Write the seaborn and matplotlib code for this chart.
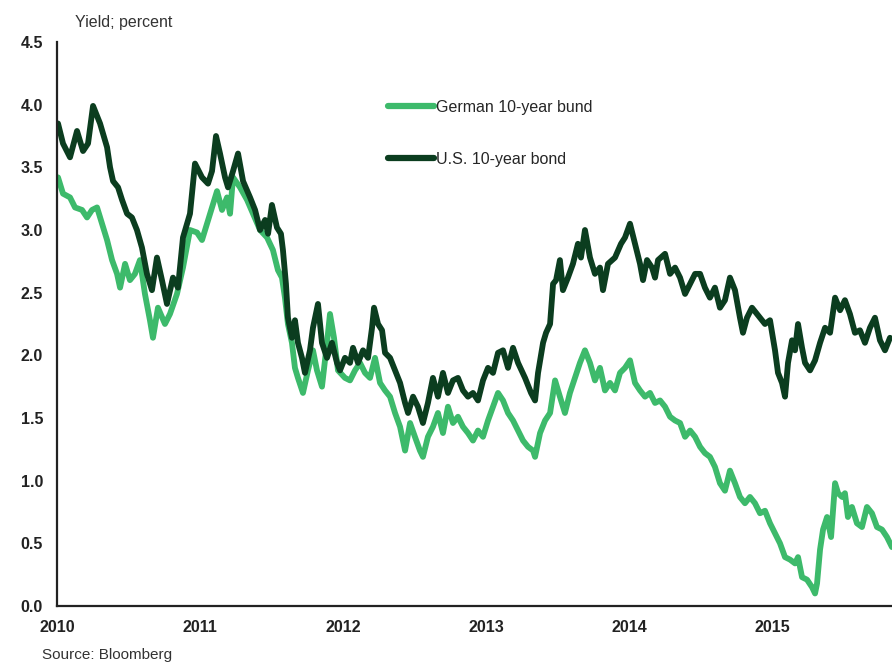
import matplotlib
matplotlib.use("Agg")
import matplotlib.pyplot as plt
import seaborn as sns
import pandas as pd

# offset in years from 2010-01-01
us_t = [0.007, 0.042, 0.091, 0.140, 0.182, 0.217, 0.252, 0.301, 0.350, 0.371, 0.392, 0.427, 0.455, 0.490,
        0.524, 0.559, 0.594, 0.629, 0.664, 0.699, 0.734, 0.769, 0.811, 0.846, 0.881, 0.930, 0.965,
        1.014, 1.056, 1.084, 1.112, 1.140, 1.175, 1.196, 1.231, 1.266, 1.301, 1.350, 1.385, 1.420, 1.455,
        1.476, 1.503, 1.538, 1.566, 1.580, 1.601, 1.615, 1.643, 1.664, 1.685, 1.713, 1.734, 1.769, 1.790,
        1.825, 1.853, 1.888, 1.923, 1.958,
        1.979, 2.014, 2.049, 2.070, 2.105, 2.140, 2.175, 2.203, 2.217, 2.245, 2.273, 2.294, 2.329, 2.364,
        2.399, 2.434, 2.455, 2.490, 2.524, 2.559, 2.594, 2.629, 2.664, 2.699, 2.734, 2.769, 2.804, 2.839,
        2.874, 2.909,
        2.944, 2.979, 3.014, 3.049, 3.084, 3.119, 3.154, 3.189, 3.224, 3.273, 3.315, 3.343, 3.364, 3.399,
        3.420, 3.448, 3.469, 3.490, 3.517, 3.538, 3.573, 3.608, 3.643, 3.664, 3.692, 3.727, 3.762, 3.797,
        3.818, 3.853, 3.902, 3.944,
        3.972, 4.007, 4.042, 4.077, 4.098, 4.126, 4.161, 4.182, 4.203, 4.252, 4.287, 4.322, 4.357, 4.392,
        4.427, 4.462, 4.497, 4.531, 4.566, 4.601, 4.636, 4.671, 4.706, 4.741, 4.776, 4.797, 4.825, 4.860,
        4.895,
        4.930, 4.951, 4.986, 5.021, 5.042, 5.070, 5.091, 5.112, 5.140, 5.161, 5.182, 5.210, 5.231, 5.266,
        5.301, 5.336, 5.371, 5.406, 5.441, 5.476, 5.510, 5.545, 5.580, 5.615, 5.650, 5.685, 5.720, 5.755,
        5.790, 5.825]
us_yield = [3.85, 3.69, 3.58, 3.79, 3.63, 3.69, 3.99, 3.85, 3.66, 3.50, 3.39, 3.34, 3.24, 3.13,
            3.10, 3.00, 2.86, 2.65, 2.52, 2.78, 2.60, 2.41, 2.62, 2.54, 2.94, 3.13, 3.53,
            3.42, 3.37, 3.47, 3.75, 3.61, 3.42, 3.34, 3.47, 3.61, 3.39, 3.26, 3.16, 3.00, 3.08,
            2.97, 3.20, 3.02, 2.97, 2.84, 2.57, 2.30, 2.14, 2.28, 2.10, 1.98, 1.86, 2.04, 2.22,
            2.41, 2.10, 1.98, 2.10, 1.94,
            1.88, 1.98, 1.94, 2.06, 1.94, 2.04, 1.98, 2.22, 2.38, 2.25, 2.20, 2.02, 1.98, 1.88,
            1.78, 1.62, 1.54, 1.67, 1.59, 1.46, 1.62, 1.82, 1.67, 1.86, 1.70, 1.80, 1.82, 1.72,
            1.67, 1.70,
            1.64, 1.80, 1.90, 1.86, 2.02, 2.04, 1.90, 2.06, 1.94, 1.82, 1.70, 1.64, 1.86, 2.10,
            2.18, 2.25, 2.57, 2.60, 2.76, 2.52, 2.62, 2.73, 2.89, 2.78, 3.00, 2.78, 2.65, 2.70,
            2.52, 2.73, 2.78, 2.89,
            2.94, 3.05, 2.89, 2.73, 2.60, 2.76, 2.70, 2.62, 2.76, 2.81, 2.65, 2.70, 2.62, 2.49,
            2.57, 2.65, 2.65, 2.54, 2.46, 2.54, 2.38, 2.44, 2.62, 2.52, 2.30, 2.18, 2.30, 2.38,
            2.33,
            2.28, 2.25, 2.28, 2.04, 1.86, 1.78, 1.67, 1.94, 2.12, 2.04, 2.25, 2.06, 1.94, 1.88,
            1.96, 2.10, 2.22, 2.18, 2.46, 2.36, 2.44, 2.33, 2.18, 2.20, 2.10, 2.22, 2.30, 2.12,
            2.04, 2.14]

de_t = [0.007, 0.042, 0.091, 0.126, 0.175, 0.210, 0.245, 0.280, 0.315, 0.350, 0.385, 0.420, 0.441, 0.476,
        0.510, 0.545, 0.580, 0.615, 0.650, 0.671, 0.706, 0.755, 0.790, 0.839, 0.881, 0.930, 0.979,
        1.014, 1.049, 1.084, 1.119, 1.154, 1.189, 1.210, 1.231, 1.280, 1.329, 1.371, 1.420, 1.469, 1.510,
        1.545, 1.573, 1.594, 1.615, 1.643, 1.664, 1.685, 1.720, 1.755, 1.790, 1.818, 1.853, 1.888, 1.909,
        1.937, 1.965,
        2.014, 2.049, 2.084, 2.119, 2.154, 2.189, 2.224, 2.259, 2.294, 2.329, 2.364, 2.399, 2.434, 2.469,
        2.503, 2.538, 2.559, 2.594, 2.629, 2.664, 2.699, 2.734, 2.769, 2.804, 2.839, 2.874, 2.909,
        2.944, 2.979, 3.014, 3.049, 3.084, 3.119, 3.154, 3.189, 3.224, 3.259, 3.294, 3.329, 3.343, 3.378,
        3.413, 3.448, 3.483, 3.517, 3.552, 3.587, 3.622, 3.657, 3.692, 3.727, 3.762, 3.797, 3.832, 3.867,
        3.902, 3.937,
        3.972, 4.007, 4.042, 4.077, 4.112, 4.147, 4.182, 4.217, 4.252, 4.287, 4.322, 4.357, 4.392, 4.427,
        4.462, 4.497, 4.531, 4.566, 4.601, 4.636, 4.671, 4.706, 4.741, 4.776, 4.811, 4.846, 4.881, 4.916,
        4.951, 4.986, 5.021, 5.056, 5.091, 5.126, 5.161, 5.182, 5.210, 5.245, 5.280, 5.301, 5.315, 5.336,
        5.357, 5.385, 5.413, 5.441, 5.462, 5.490, 5.510, 5.531, 5.559, 5.594, 5.629, 5.664, 5.699, 5.734,
        5.769, 5.804, 5.839]
de_yield = [3.42, 3.29, 3.26, 3.18, 3.16, 3.10, 3.16, 3.18, 3.05, 2.92, 2.76, 2.65, 2.54, 2.73,
            2.60, 2.65, 2.76, 2.49, 2.28, 2.14, 2.38, 2.25, 2.33, 2.49, 2.70, 3.00, 2.98,
            2.92, 3.05, 3.18, 3.31, 3.16, 3.26, 3.13, 3.42, 3.34, 3.24, 3.13, 3.00, 2.94, 2.84,
            2.68, 2.62, 2.46, 2.25, 2.10, 1.90, 1.82, 1.70, 1.88, 2.04, 1.88, 1.75, 2.10, 2.33,
            2.14, 1.88,
            1.82, 1.80, 1.88, 1.94, 1.86, 1.82, 1.98, 1.78, 1.72, 1.67, 1.54, 1.43, 1.24, 1.46,
            1.35, 1.24, 1.19, 1.35, 1.43, 1.54, 1.38, 1.59, 1.46, 1.51, 1.43, 1.38, 1.32,
            1.40, 1.35, 1.48, 1.59, 1.70, 1.64, 1.54, 1.48, 1.40, 1.32, 1.27, 1.24, 1.19, 1.38,
            1.48, 1.54, 1.80, 1.67, 1.54, 1.70, 1.82, 1.94, 2.04, 1.94, 1.80, 1.90, 1.72, 1.78,
            1.72, 1.86,
            1.90, 1.96, 1.78, 1.72, 1.67, 1.70, 1.62, 1.64, 1.59, 1.51, 1.48, 1.46, 1.35, 1.40,
            1.35, 1.27, 1.22, 1.19, 1.11, 0.98, 0.92, 1.08, 0.98, 0.87, 0.82, 0.87, 0.82, 0.74,
            0.76, 0.66, 0.58, 0.50, 0.39, 0.37, 0.34, 0.39, 0.23, 0.21, 0.15, 0.10, 0.18, 0.45,
            0.61, 0.71, 0.55, 0.98, 0.90, 0.87, 0.90, 0.71, 0.79, 0.66, 0.63, 0.79, 0.74, 0.63,
            0.61, 0.55, 0.47]

labels = ["German 10-year bund", "U.S. 10-year bond"]
colors = ["#3dba6b", "#0b3d1f"]
years = [2010, 2011, 2012, 2013, 2014, 2015]
yticks = [0.0, 0.5, 1.0, 1.5, 2.0, 2.5, 3.0, 3.5, 4.0, 4.5]

df = pd.concat([
    pd.DataFrame({"year": [2010 + t for t in de_t], "yield": de_yield, "series": labels[0]}),
    pd.DataFrame({"year": [2010 + t for t in us_t], "yield": us_yield, "series": labels[1]}),
])

sns.set_style("white")
plt.rcParams["font.family"] = ["Liberation Sans", "DejaVu Sans"]

fig = plt.figure(figsize=(8.92, 6.71), dpi=100)
ax = fig.add_axes([57 / 892, 1 - 606 / 671, 1 - 57 / 892, (606 - 42) / 671])

sns.lineplot(data=df, x="year", y="yield", hue="series", hue_order=labels,
             palette=colors, linewidth=4.2, estimator=None, sort=False, ax=ax)

ax.set_xlim(2010, 2010 + 835 / 143)
ax.set_ylim(0, 4.5)
ax.set_xticks(years)
ax.set_xticklabels([str(y) for y in years], fontweight="bold", fontsize=11.5, color="#222222")
ax.set_yticks(yticks)
ax.set_yticklabels([f"{v:.1f}" for v in yticks], fontweight="bold", fontsize=11.5, color="#222222")
ax.tick_params(length=0, pad=10)
ax.set_xlabel("")
ax.set_ylabel("")
for side in ["top", "right"]:
    ax.spines[side].set_visible(False)
for side in ["left", "bottom"]:
    ax.spines[side].set_color("#222222")
    ax.spines[side].set_linewidth(1.6)

leg = ax.legend(loc="upper left", bbox_to_anchor=(388 / 892, 1 - 100 / 671),
                bbox_transform=fig.transFigure, frameon=False, fontsize=11.5,
                handlelength=2.9, handletextpad=0.1, labelspacing=2.3,
                borderpad=0, borderaxespad=0)
for line in leg.get_lines():
    line.set_linewidth(4.5)

fig.text(75 / 892, 1 - 22 / 671, "Yield; percent", fontsize=11.5, color="#333333", va="center")
fig.text(42 / 892, 1 - 655 / 671, "Source: Bloomberg", fontsize=11, color="#333333", va="center")

fig.savefig("out.png", dpi=100)
